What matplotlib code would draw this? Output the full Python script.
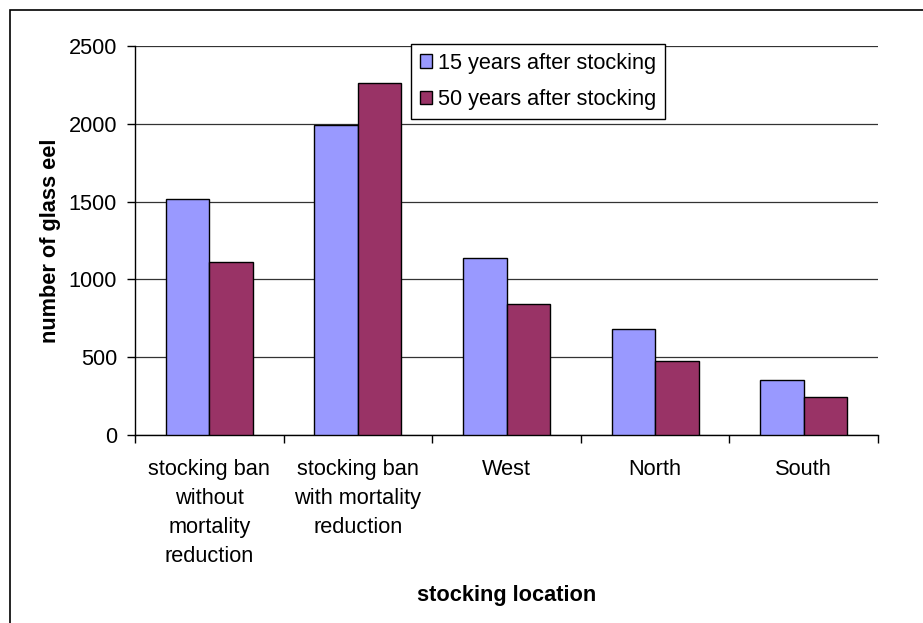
import matplotlib
matplotlib.use("Agg")
import matplotlib.pyplot as plt
from matplotlib.patches import Rectangle
import numpy as np

categories = ["stocking ban\nwithout\nmortality\nreduction",
              "stocking ban\nwith mortality\nreduction",
              "West", "North", "South"]
series_names = ["15 years after stocking", "50 years after stocking"]
values_15 = [1515, 1990, 1135, 680, 355]
values_50 = [1112, 2262, 842, 476, 246]
y_ticks = [0, 500, 1000, 1500, 2000, 2500]

plt.rcParams['font.family'] = ['Liberation Sans', 'DejaVu Sans']
FS = 15.7

fig = plt.figure(figsize=(9.23, 6.23), dpi=100)
ax = fig.add_axes([135/923, 1-435/623, (878-135)/923, (435-46)/623])

# outer chart border
fig.patches.append(Rectangle((10/923, -0.1), 1.2, 1 - 10/623 + 0.1,
                             transform=fig.transFigure, fill=False,
                             edgecolor='black', linewidth=1.2))

x = np.arange(len(categories))
w = 0.293
ax.bar(x - w/2, values_15, width=w, color='#9999FF', edgecolor='black',
       linewidth=1.0, label=series_names[0], zorder=3)
ax.bar(x + w/2, values_50, width=w, color='#993366', edgecolor='black',
       linewidth=1.0, label=series_names[1], zorder=3)

ax.set_xlim(-0.5, len(categories) - 0.5)
ax.set_ylim(0, 2500)
ax.set_yticks(y_ticks)
ax.yaxis.grid(True, color='#333333', linewidth=0.9, zorder=0)
ax.set_axisbelow(True)

ax.set_xticks(x)
ax.set_xticklabels(categories, fontsize=FS, linespacing=1.5)
ax.set_xticks(np.arange(len(categories) + 1) - 0.5, minor=True)
ax.tick_params(axis='x', which='major', length=0, pad=17)
ax.tick_params(axis='x', which='minor', length=6, width=1, direction='out')
ax.tick_params(axis='y', length=6, width=1, direction='out', labelsize=FS, pad=7)

for s in ['top', 'right']:
    ax.spines[s].set_visible(False)
ax.spines['left'].set_linewidth(1.0)
ax.spines['bottom'].set_linewidth(1.0)

ax.set_ylabel("number of glass eel", fontsize=FS, fontweight='bold', labelpad=5)
ax.set_xlabel("stocking location", fontsize=FS, fontweight='bold', labelpad=13)

leg = ax.legend(loc='upper left', bbox_to_anchor=((411-135)/743, 1 + 2/389),
                fontsize=FS, frameon=True, fancybox=False, edgecolor='black',
                handlelength=0.55, handleheight=0.55, handletextpad=0.3,
                borderpad=0.4, labelspacing=0.7, borderaxespad=0)
leg.get_frame().set_linewidth(1.0)
leg.get_frame().set_alpha(1)

fig.savefig("out.png", dpi=100)
